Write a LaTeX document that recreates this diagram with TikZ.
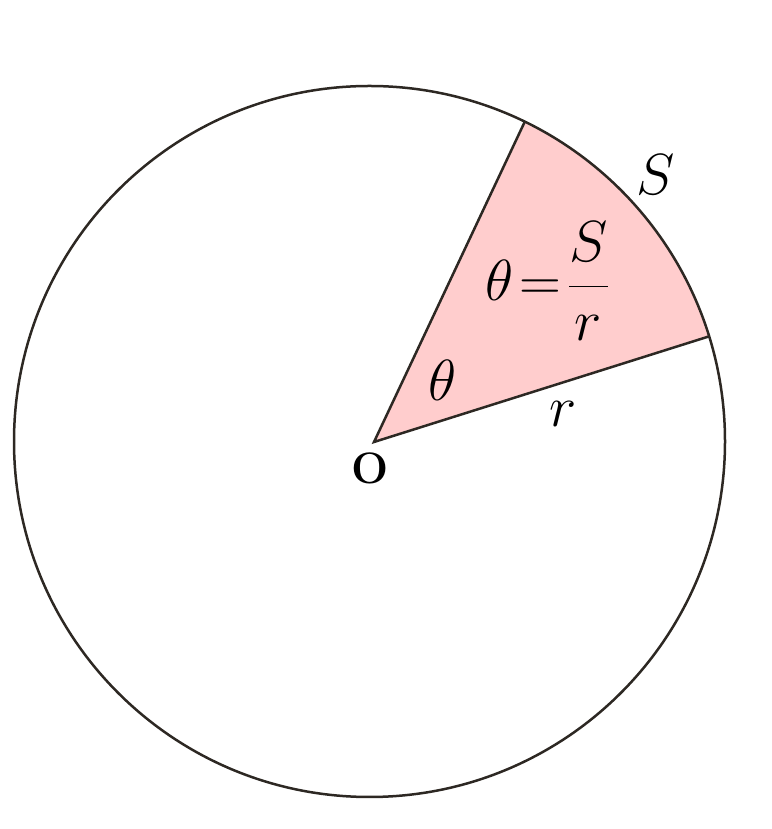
\documentclass[tikz,border=0pt]{standalone}
\usepackage{fix-cm}
\usepackage{amsmath}
\usetikzlibrary{calc}
\definecolor{sectorpink}{RGB}{255,205,205}
\definecolor{rimclr}{RGB}{45,40,35}
\begin{document}
\begin{tikzpicture}[x=1pt,y=1pt,line width=2.5pt,
    lbl/.style={inner sep=0pt,text=black,font=\fontsize{58}{64}\selectfont}]
    \useasboundingbox (0,0) rectangle (771,829);
    \coordinate (C) at (369.5,387.5);
    \coordinate (O) at (374,387);
    \coordinate (A) at ($(C)+(64.1:355.5)$);
    \coordinate (B) at ($(C)+(17.2:355.5)$);
    \fill[sectorpink] (O) -- (A) arc[start angle=64.1,end angle=17.2,radius=355.5] -- cycle;
    \draw[rimclr] (C) circle[radius=355.5];
    \draw[rimclr] (A) -- (O) -- (B);
    \node[lbl] (S) at (656,654) {$S$};
    \node[lbl] (f) at (547,548) {$\theta\!=\!\dfrac{S}{r}$};
    \node[lbl] (t) at (443,449) {$\theta$};
    \node[lbl] (r) at (563,415) {$r$};
    \node[lbl,font=\fontsize{44}{50}\selectfont\bfseries] (o) at (370,361) {O};
\end{tikzpicture}
\end{document}
